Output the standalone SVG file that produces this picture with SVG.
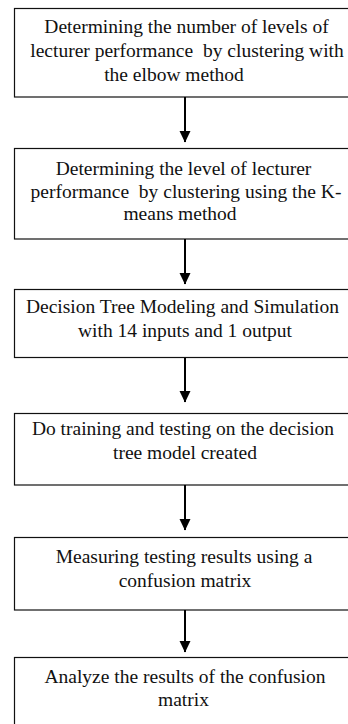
<svg xmlns="http://www.w3.org/2000/svg" width="348" height="724" viewBox="0 0 348 724">
  <style>
    .box { fill: #fff; stroke: #111; stroke-width: 1.2; }
    .lbl { font-family: "Liberation Serif", "Times New Roman", serif; font-size: 19.5px; fill: #111; text-anchor: middle; }
    .flow { stroke: #000; stroke-width: 2; fill: none; }
  </style>
  <defs>
    <marker id="head" markerUnits="userSpaceOnUse" markerWidth="12" markerHeight="12" viewBox="0 0 12 12" refX="11" refY="6" orient="auto">
      <path d="M0,0.5 L11.5,6 L0,11.5 Z" fill="#000"/>
    </marker>
  </defs>
  <rect width="348" height="724" fill="#fff"/>

  <g id="step1">
    <rect class="box" x="14.5" y="8.5" width="350" height="88.5"/>
    <text class="lbl" x="186.5" y="33">Determining the number of levels of</text>
    <text class="lbl" x="187" y="57" xml:space="preserve">lecturer performance  by clustering with</text>
    <text class="lbl" x="174" y="81">the elbow method</text>
  </g>

  <g id="step2">
    <rect class="box" x="14.5" y="148.5" width="350" height="90.5"/>
    <text class="lbl" x="183.5" y="175">Determining the level of lecturer</text>
    <text class="lbl" x="186" y="198" xml:space="preserve">performance  by clustering using the K-</text>
    <text class="lbl" x="180" y="220">means method</text>
  </g>

  <g id="step3">
    <rect class="box" x="14.5" y="289.5" width="350" height="68"/>
    <text class="lbl" x="182.5" y="313">Decision Tree Modeling and Simulation</text>
    <text class="lbl" x="185" y="337">with 14 inputs and 1 output</text>
  </g>

  <g id="step4">
    <rect class="box" x="14.5" y="413.5" width="350" height="71.5"/>
    <text class="lbl" x="183" y="435">Do training and testing on the decision</text>
    <text class="lbl" x="185" y="459">tree model created</text>
  </g>

  <g id="step5">
    <rect class="box" x="14.5" y="537.5" width="350" height="72.5"/>
    <text class="lbl" x="184" y="563">Measuring testing results using a</text>
    <text class="lbl" x="185" y="587">confusion matrix</text>
  </g>

  <g id="step6">
    <rect class="box" x="14.5" y="657.5" width="350" height="80"/>
    <text class="lbl" x="185" y="683">Analyze the results of the confusion</text>
    <text class="lbl" x="183.5" y="706">matrix</text>
  </g>

  <g id="connectors">
    <line class="flow" x1="185" y1="97" x2="185" y2="142" marker-end="url(#head)"/>
    <line class="flow" x1="185" y1="239" x2="185" y2="284" marker-end="url(#head)"/>
    <line class="flow" x1="185" y1="358" x2="185" y2="402" marker-end="url(#head)"/>
    <line class="flow" x1="185" y1="485" x2="185" y2="530" marker-end="url(#head)"/>
    <line class="flow" x1="185" y1="610" x2="185" y2="652" marker-end="url(#head)"/>
  </g>
</svg>
